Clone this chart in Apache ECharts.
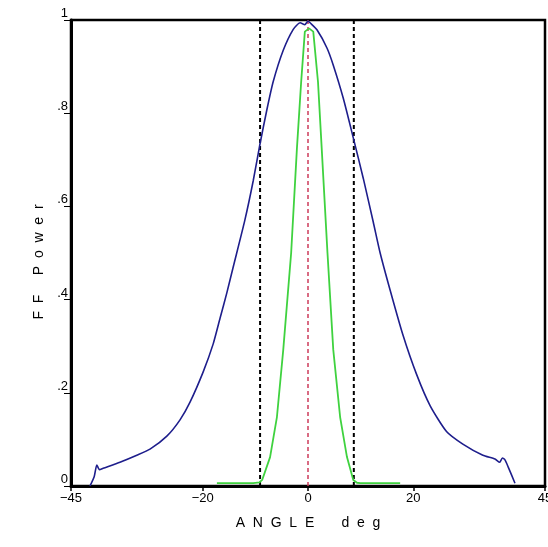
<!DOCTYPE html>
<html>
<head>
<meta charset="utf-8">
<script src="https://cdn.jsdelivr.net/npm/echarts@6/dist/echarts.min.js"></script>
<style>html,body{margin:0;padding:0;background:#fff}#c{width:548px;height:547px}</style>
</head>
<body>
<div id="c"></div>
<script>
// Far-field power vs angle (deg)
const blueX = [-41.4, -40.6, -40.1, -39.6, -38.9, -35.7, -32.5, -30, -26.8, -24.3, -22.4, -19.9, -18, -16.7, -15.4, -14.2, -12, -10.4, -9.1, -7.8, -6.6, -4.7, -2.8, -1.5, -0.6, 0, 0.4, 1.7, 3.6, 4.8, 6.7, 8.6, 10.5, 12.4, 13.7, 15.6, 18, 20.6, 23.2, 26.3, 29.4, 33.2, 35.5, 36.4, 36.9, 37.4, 38, 39.3];
const blueY = [0, 0.02, 0.045, 0.035, 0.038, 0.051, 0.066, 0.079, 0.107, 0.142, 0.18, 0.245, 0.305, 0.36, 0.415, 0.47, 0.57, 0.655, 0.735, 0.808, 0.868, 0.935, 0.98, 0.994, 0.99, 0.998, 0.994, 0.979, 0.94, 0.903, 0.832, 0.747, 0.66, 0.566, 0.5, 0.42, 0.325, 0.24, 0.172, 0.117, 0.09, 0.066, 0.058, 0.051, 0.06, 0.056, 0.041, 0.006];
const greenX = [-17.3, -10.4, -9.2, -8.7, -7.2, -5.9, -4.7, -3.2, -2.1, -1.3, -0.6, 0.2, 1, 1.9, 2.6, 3.7, 4.8, 6.1, 7.4, 8.6, 9.3, 9.9, 17.5];
const greenY = [0.006, 0.006, 0.008, 0.013, 0.062, 0.148, 0.292, 0.5, 0.725, 0.867, 0.975, 0.982, 0.975, 0.867, 0.725, 0.5, 0.292, 0.148, 0.062, 0.013, 0.007, 0.006, 0.006];
const markerLinesX = [-9.1, 8.7];
const centerLineX = [0];
const xTicks = [-45, -20, 0, 20, 45];
const yTicks = [0, 0.2, 0.4, 0.6, 0.8, 1];
const yTickLabels = ['0', '.2', '.4', '.6', '.8', '1'];

const zip = (xs, ys) => xs.map((x, i) => [x, ys[i]]);
const vline = x => [[x, 0], [x, 1]];

const chart = echarts.init(document.getElementById('c'), null, {renderer: 'canvas'});
const font = 'Liberation Sans, Arial, sans-serif';
const series = [];
markerLinesX.forEach(x => series.push({
  type: 'line', data: vline(x), symbol: 'none', silent: true,
  lineStyle: {color: '#000', width: 2, type: [4, 3]}, z: 1
}));
centerLineX.forEach(x => series.push({
  type: 'line', data: vline(x), symbol: 'none', silent: true,
  lineStyle: {color: '#cc3a5a', width: 1.5, type: [4, 3]}, z: 1
}));
series.push({type: 'line', data: zip(blueX, blueY), symbol: 'none', smooth: 0.2,
  lineStyle: {color: '#1e1e8c', width: 1.6}, z: 3});
series.push({type: 'line', data: zip(greenX, greenY), symbol: 'none',
  lineStyle: {color: '#3fd23f', width: 1.8}, z: 2});

chart.setOption({
  animation: false,
  backgroundColor: '#fff',
  grid: {left: 71, right: 3, top: 20, bottom: 61, containLabel: false, outerBoundsMode: 'none',
    show: true, borderColor: '#000', borderWidth: 2.5},
  xAxis: {
    type: 'value', min: -45, max: 45,
    axisLine: {show: true, onZero: false, lineStyle: {color: '#000', width: 3}},
    axisTick: {show: true, inside: false, length: 5, customValues: xTicks, lineStyle: {color: '#000', width: 1.5}},
    axisLabel: {customValues: xTicks, margin: 6, color: '#000', fontFamily: font, fontSize: 13,
      formatter: v => (v < 0 ? '\u2212' + (-v) : String(v))},
    splitLine: {show: false},
    name: 'A  N  G  L  E       d  e  g', nameLocation: 'middle', nameGap: 30,
    nameTextStyle: {color: '#000', fontFamily: font, fontSize: 14}
  },
  yAxis: {
    type: 'value', min: 0, max: 1,
    axisLine: {show: true, onZero: false, lineStyle: {color: '#000', width: 3}},
    axisTick: {show: true, inside: false, length: 7, customValues: yTicks, lineStyle: {color: '#000', width: 1}},
    axisLabel: {customValues: yTicks, margin: 3, color: '#000', fontFamily: font, fontSize: 13, verticalAlign: 'bottom',
      formatter: v => yTickLabels[yTicks.findIndex(t => Math.abs(t - v) < 1e-9)]},
    splitLine: {show: false},
    name: 'F  F     P  o  w  e  r', nameLocation: 'middle', nameGap: 24, nameRotate: 90,
    nameTextStyle: {color: '#000', fontFamily: font, fontSize: 14, padding: [0, 18, 0, 0]}
  },
  series: series
});
</script>
</body>
</html>
